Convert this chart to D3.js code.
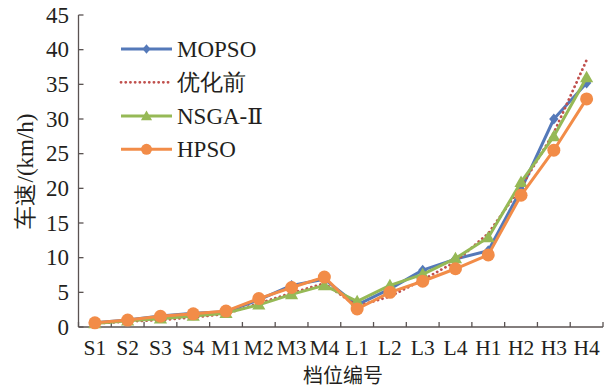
<!DOCTYPE html>
<html>
<head>
<meta charset="utf-8">
<script src="https://cdn.jsdelivr.net/npm/d3@7"></script>
<style>
html,body{margin:0;padding:0;background:#fff;}
svg{display:block;}
</style>
</head>
<body>
<svg id="chart" width="614" height="389"></svg>
<script>
const categories = ["S1","S2","S3","S4","M1","M2","M3","M4","L1","L2","L3","L4","H1","H2","H3","H4"];
const mopso = [0.6, 1.0, 1.6, 2.0, 2.2, 3.9, 6.0, 6.9, 3.2, 5.5, 8.2, 9.8, 11.0, 19.8, 30.0, 35.2];
const before = [0.5, 0.8, 1.0, 1.4, 1.9, 3.4, 4.9, 6.3, 3.0, 4.4, 6.8, 9.4, 13.5, 20.2, 28.0, 38.5];
const nsga = [0.5, 0.9, 1.2, 1.6, 2.0, 3.2, 4.7, 6.0, 3.7, 6.0, 7.6, 9.9, 12.9, 20.9, 27.5, 36.0];
const hpso = [0.6, 1.0, 1.55, 1.9, 2.3, 4.1, 5.7, 7.2, 2.6, 5.0, 6.6, 8.4, 10.4, 19.0, 25.5, 32.9];
const yTicks = [0,5,10,15,20,25,30,35,40,45];
const seriesNames = ["MOPSO","优化前","NSGA-Ⅱ","HPSO"];
const xTitle = "档位编号";
const yTitle = "车速/(km/h)";

const svg = d3.select("#chart");
const L = 78.5, R = 603, T = 15, B = 327;
const axisColor = "#5a5352";
const textColor = "#231f20";
const latin = "'Liberation Serif', Tinos, 'DejaVu Serif', serif";

const x = d3.scaleBand().domain(categories).range([L, R]);
const cx = d => x(d) + x.bandwidth()/2;
const y = d3.scaleLinear().domain([0,45]).range([B, T]);

// Axes
const ax = svg.append("g").attr("stroke", axisColor).attr("stroke-width", 1.3);
ax.append("line").attr("x1", L).attr("x2", L).attr("y1", T).attr("y2", B);
ax.append("line").attr("x1", L).attr("x2", R).attr("y1", B).attr("y2", B);
yTicks.forEach(t => {
  ax.append("line").attr("x1", L).attr("x2", L+5).attr("y1", y(t)).attr("y2", y(t));
});
const bounds = categories.map(c => x(c)).concat([R]);
bounds.forEach(b => {
  ax.append("line").attr("x1", b).attr("x2", b).attr("y1", B).attr("y2", B-5);
});

svg.append("g").selectAll("text").data(yTicks).join("text")
  .attr("x", 69).attr("y", d => y(d) + 7.5)
  .attr("text-anchor", "end")
  .attr("font-family", latin).attr("font-size", 23).attr("fill", textColor)
  .text(d => d);

svg.append("g").selectAll("text").data(categories).join("text")
  .attr("x", d => cx(d)).attr("y", 355)
  .attr("text-anchor", "middle")
  .attr("font-family", latin).attr("font-size", 21.5).attr("fill", textColor)
  .text(d => d);

svg.append("text").attr("x", 343).attr("y", 383)
  .attr("text-anchor", "middle")
  .attr("font-family", "'Noto Sans CJK SC',sans-serif").attr("font-size", 20).attr("fill", textColor)
  .text(xTitle);

svg.append("text").attr("transform", "translate(25,171) rotate(-90)")
  .attr("text-anchor", "middle").attr("dominant-baseline", "central")
  .attr("font-family", latin).attr("font-size", 23).attr("fill", textColor)
  .text(yTitle);

// Series
const colors = ["#5479b9", "#c0504d", "#96b956", "#f28c48"];
const line = d3.line().x((d,i) => cx(categories[i])).y(d => y(d));

const diamond = (px, py, s) => `M${px},${py-s}L${px+s*0.85},${py}L${px},${py+s}L${px-s*0.85},${py}Z`;

function drawMarkers(g, kind, color, px, py, scale) {
  if (kind === "diamond") {
    g.append("path").attr("d", diamond(px, py, 5.5*scale)).attr("fill", color);
  } else if (kind === "triangle") {
    g.append("path").attr("d", d3.symbol().type(d3.symbolTriangle).size(75*scale*scale)())
      .attr("transform", `translate(${px},${py+1})`).attr("fill", color);
  } else if (kind === "circle") {
    g.append("circle").attr("cx", px).attr("cy", py).attr("r", 6.5*scale).attr("fill", color);
  }
}

const series = [
  {data: mopso, color: colors[0], marker: "diamond", dash: null},
  {data: before, color: colors[1], marker: null, dash: "0.1,4.6"},
  {data: nsga, color: colors[2], marker: "triangle", dash: null},
  {data: hpso, color: colors[3], marker: "circle", dash: null}
];

series.forEach(s => {
  const g = svg.append("g");
  const p = g.append("path").datum(s.data).attr("d", line)
    .attr("fill", "none").attr("stroke", s.color)
    .attr("stroke-width", s.dash ? 2.8 : 3).attr("stroke-linejoin", "round");
  if (s.dash) p.attr("stroke-dasharray", s.dash).attr("stroke-linecap", "round");
  if (s.marker) s.data.forEach((v,i) => drawMarkers(g, s.marker, s.color, cx(categories[i]), y(v), 1));
});

// Legend
const legY = [49, 82.3, 116, 149.3];
series.forEach((s, i) => {
  const g = svg.append("g");
  const l = g.append("line").attr("x1", 121).attr("x2", 172).attr("y1", legY[i]).attr("y2", legY[i])
    .attr("stroke", s.color).attr("stroke-width", s.dash ? 2.8 : 3);
  if (s.dash) l.attr("stroke-dasharray", s.dash).attr("stroke-linecap", "round");
  if (s.marker) drawMarkers(g, s.marker, s.color, 146.5, legY[i], 0.85);
  g.append("text").attr("x", 177).attr("y", legY[i] + 8)
    .attr("font-family", latin).attr("font-size", 23).attr("fill", textColor)
    .text(seriesNames[i]);
});
</script>
</body>
</html>
